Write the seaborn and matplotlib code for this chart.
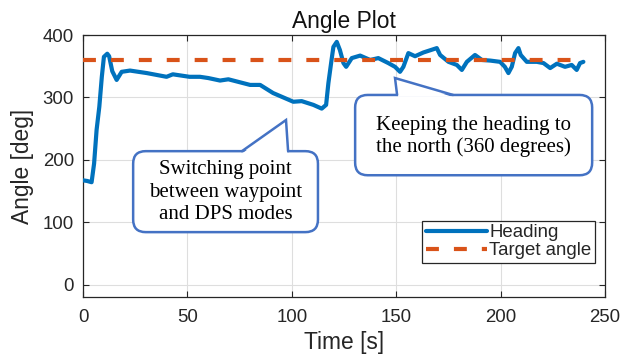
import numpy as np
import pandas as pd
import matplotlib
matplotlib.use("Agg")
import matplotlib.pyplot as plt
from matplotlib.patches import FancyBboxPatch, Polygon
import seaborn as sns

# Heading record of the vessel [s], [deg]
time_s = [0, 2, 4.1, 5.3, 6.5, 7.8, 9, 10, 11.6, 12.5, 14, 16.1, 18.5, 22.5, 30.5,
          40, 43, 51, 56, 60, 65.6, 69.6, 80, 84.8, 91, 100.7, 104.7, 110.3, 114.3,
          116.4, 117.5, 119, 119.9, 121.5, 123, 124.7, 126, 128.7, 132.7, 137.5,
          141.4, 146.2, 149.4, 151.8, 153.4, 155.8, 159, 163, 169.4, 171, 175,
          179, 181.4, 183.8, 187.7, 191, 195, 199.7, 202, 203.7, 205.3, 206.9,
          208.5, 209.6, 212.5, 217.3, 220.5, 223.7, 226.9, 230.8, 234, 236.4,
          238, 239.6]
heading_deg = [167, 166, 164, 194, 248, 285, 333, 365, 370, 366, 342, 328, 341, 343, 339,
               333, 337, 333, 333, 331, 327, 329, 320, 320, 307, 293, 294, 288, 282,
               288, 323, 360, 381, 389, 376, 355, 349, 363, 367, 360,
               363, 355, 349, 341, 349, 371, 366, 372, 379, 368, 357,
               352, 344, 357, 368, 360, 359, 357, 349, 339, 349, 371,
               379, 368, 357, 357, 355, 347, 354, 349, 352, 344,
               355, 357]

target_time = [0, 240]
target_deg = [360, 360]

x_ticks = [0, 50, 100, 150, 200, 250]
y_ticks = [0, 100, 200, 300, 400]

heading_df = pd.DataFrame({"Time": time_s, "Angle": heading_deg})
target_df = pd.DataFrame({"Time": target_time, "Angle": target_deg})

sns.set_theme(style="whitegrid")
plt.rcParams["font.family"] = ["Liberation Sans", "DejaVu Sans"]

fig = plt.figure(figsize=(6.29, 3.58), dpi=100)
ax = fig.add_axes([0.132, 0.1704, 0.830, 0.7318])

sns.lineplot(data=heading_df, x="Time", y="Angle", ax=ax, color="#0072BD",
             linewidth=3.0, label="Heading", zorder=3)
sns.lineplot(data=target_df, x="Time", y="Angle", ax=ax, color="#D95319",
             linewidth=3.0, label="Target angle", zorder=4)
ax.lines[1].set_dashes((3.1, 3.6))

ax.set_xlim(0, 250)
ax.set_ylim(-20, 400)
ax.set_xticks(x_ticks)
ax.set_yticks(y_ticks)
ax.grid(True, color="#dedede", linewidth=0.8)
ax.set_facecolor("white")
for side in ["left", "right", "top", "bottom"]:
    ax.spines[side].set_visible(True)
    ax.spines[side].set_color("#262626")
    ax.spines[side].set_linewidth(0.9)
ax.tick_params(direction="in", length=4, width=0.8, color="#262626",
               top=True, right=True, bottom=True, left=True,
               labelsize=13.4, labelcolor="#262626")
ax.tick_params(axis="x", pad=9)
ax.tick_params(axis="y", pad=6.5)

ax.set_title("Angle Plot", fontsize=16.4, color="#111111", pad=5)
ax.set_xlabel("Time [s]", fontsize=16.4, color="#262626", labelpad=3)
ax.set_ylabel("Angle [deg]", fontsize=16.4, color="#262626", labelpad=6)

leg = ax.legend(loc="lower right", bbox_to_anchor=(0.981, 0.130),
                fontsize=13.4, frameon=True, fancybox=False,
                edgecolor="#262626", framealpha=1, borderpad=0.2,
                handlelength=3.3, handletextpad=0.1, labelspacing=0.05,
                borderaxespad=0)
leg.get_frame().set_linewidth(0.9)

# Callout boxes: rounded rectangle plus a pointer wedge
callout_color = "#4472C4"
aspect = (0.830 * 629 / 250) / (0.7318 * 358 / 420)


def callout(x0, x1, y0, y1, base_l, base_r, tip, text, tx, ty, spacing):
    box = FancyBboxPatch((x0, y0), x1 - x0, y1 - y0,
                         boxstyle="round,pad=0,rounding_size=6",
                         mutation_aspect=aspect,
                         facecolor="white", edgecolor=callout_color,
                         linewidth=1.8, zorder=6, clip_on=False)
    ax.add_patch(box)
    dy = 3
    fill = Polygon([(base_l[0] + 0.4, base_l[1] - dy), tip,
                    (base_r[0] - 0.4, base_r[1] - dy)],
                   closed=True, facecolor="white", edgecolor="none",
                   zorder=7, clip_on=False)
    ax.add_patch(fill)
    ax.plot([base_l[0], tip[0], base_r[0]], [base_l[1], tip[1], base_r[1]],
            color=callout_color, linewidth=1.8, zorder=8,
            solid_joinstyle="miter", clip_on=False)
    ax.text(tx, ty, text, ha="center", va="center", fontsize=15,
            family=["Liberation Serif", "DejaVu Serif"], color="black",
            linespacing=spacing, zorder=9)


callout(24, 112.5, 84, 213.8, (76.1, 213.8), (98.2, 213.8), (97.2, 263.7),
        "Switching point\nbetween waypoint\nand DPS modes", 68.3, 148, 1.25)
callout(130.3, 243.8, 175.2, 303.9, (150.4, 303.9), (177.2, 303.9), (149.4, 331),
        "Keeping the heading to\nthe north (360 degrees)", 186.8, 237, 1.15)

fig.savefig("out.png", dpi=100)
